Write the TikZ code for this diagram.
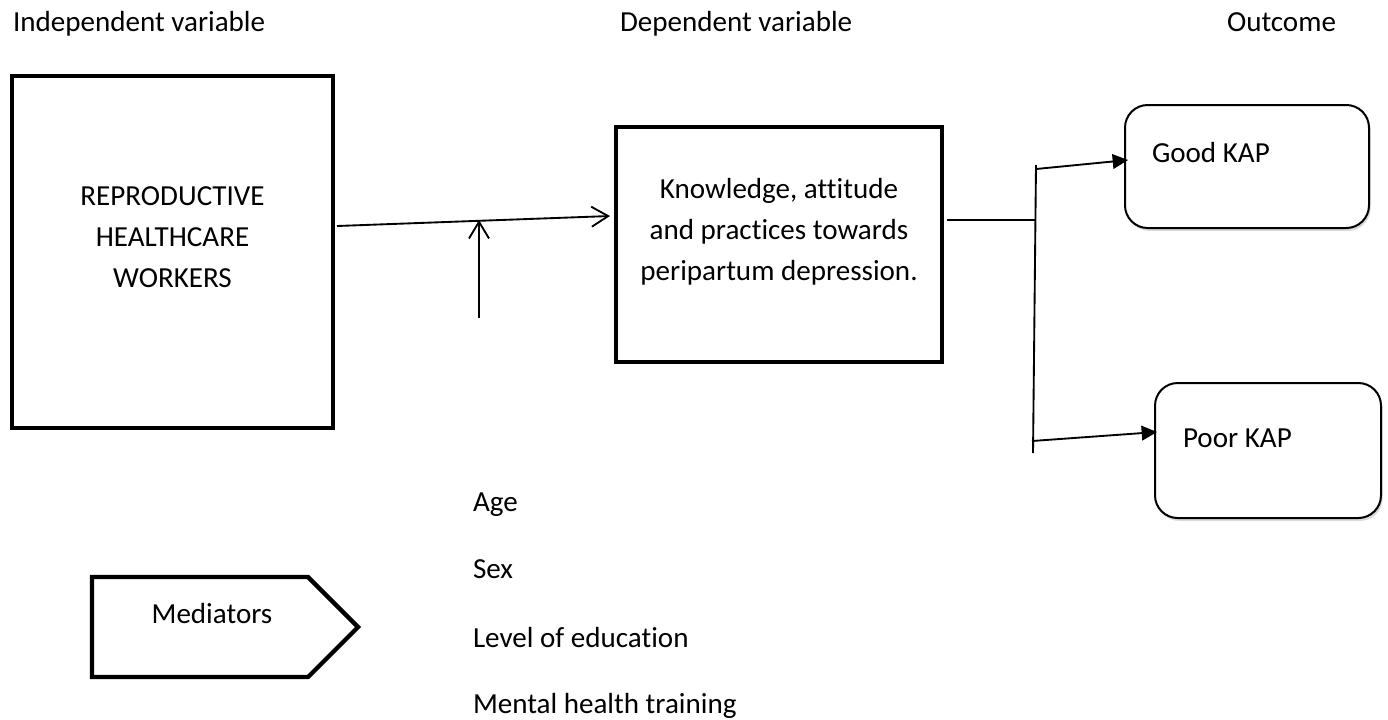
\documentclass[tikz,border=0pt]{standalone}
\usepackage{fontspec}
\setmainfont{Carlito}[Ligatures=NoCommon]
\usetikzlibrary{arrows.meta,shadows}
\begin{document}
\begin{tikzpicture}[x=0.75pt,y=-0.75pt,
  every node/.style={font=\fontsize{21.8pt}{30.75pt}\selectfont, inner sep=0pt, outer sep=0pt},
  thickbox/.style={draw, line width=3.5pt, rectangle, line join=miter},
  roundbox/.style={draw, line width=1.5pt, rectangle, rounded corners=17pt, fill=white,
    drop shadow={opacity=0.3, shadow xshift=1.2pt, shadow yshift=-2.2pt}},
  txt/.style={anchor=base west},
  openarrow/.style={line width=1.4pt, -{Straight Barb[length=12.5pt,width=15pt,line width=1.4pt]}},
  fillarrow/.style={line width=1.4pt, -{Triangle[length=11.5pt,width=11pt]}},
  plainline/.style={line width=1.4pt}
]
\useasboundingbox (0,0) rectangle (1388,719);

% headers
\node[txt] (h1) at (13,31) {Independent variable};
\node[txt] (h2) at (620,31) {Dependent variable};
\node[txt] (h3) at (1227,31) {Outcome};

% independent variable box
\node[thickbox, minimum width=240.75pt, minimum height=264pt] (box1) at (172.5,252) {};
\node[align=center] (box1t) at (172.5,236.7) {REPRODUCTIVE\\HEALTHCARE\\WORKERS};

% dependent variable box
\node[thickbox, minimum width=244.5pt, minimum height=176.25pt] (box2) at (779,244.5) {};
\node[align=center] (box2t) at (779,231.5) {Knowledge, attitude\\and practices towards\\peripartum depression.};

% outcome boxes
\node[roundbox, minimum width=183pt, minimum height=92.25pt] (good) at (1247,166.5) {};
\node[txt] (goodt) at (1152,162) {Good KAP};
\node[roundbox, minimum width=169.5pt, minimum height=101.25pt] (poor) at (1268,450.5) {};
\node[txt] (poort) at (1183,447) {Poor KAP};

% mediators shape
\coordinate (m1) at (92,577);
\coordinate (m2) at (308,577);
\coordinate (m3) at (358,627);
\coordinate (m4) at (308,677);
\coordinate (m5) at (92,677);
\draw[line width=3.2pt, line join=miter] (m1) -- (m2) -- (m3) -- (m4) -- (m5) -- cycle;
\node[anchor=base] (med) at (212,623) {Mediators};

% mediator list
\node[txt] (l1) at (473,511) {Age};
\node[txt] (l2) at (473,578) {Sex};
\node[txt] (l3) at (473,647) {Level of education};
\node[txt] (l4) at (473,713) {Mental health training};

% connectors
\coordinate (a1s) at (337,226);
\coordinate (a1e) at (610,216);
\draw[openarrow] (a1s) -- (a1e);
\coordinate (a2s) at (479,318);
\coordinate (a2e) at (479,220);
\draw[openarrow] (a2s) -- (a2e);

\coordinate (b1) at (947,220);
\coordinate (b2) at (1035,220);
\draw[line width=1pt] (b1) -- (b2);
\coordinate (vt) at (1036,165);
\coordinate (vb) at (1033,453);
\draw[plainline] (vt) -- (vb);
\coordinate (ts) at (1036,169);
\coordinate (te) at (1128,160);
\draw[fillarrow] (ts) -- (te);
\coordinate (bs) at (1032,441);
\coordinate (be) at (1157,432);
\draw[fillarrow] (bs) -- (be);
\end{tikzpicture}
\end{document}
